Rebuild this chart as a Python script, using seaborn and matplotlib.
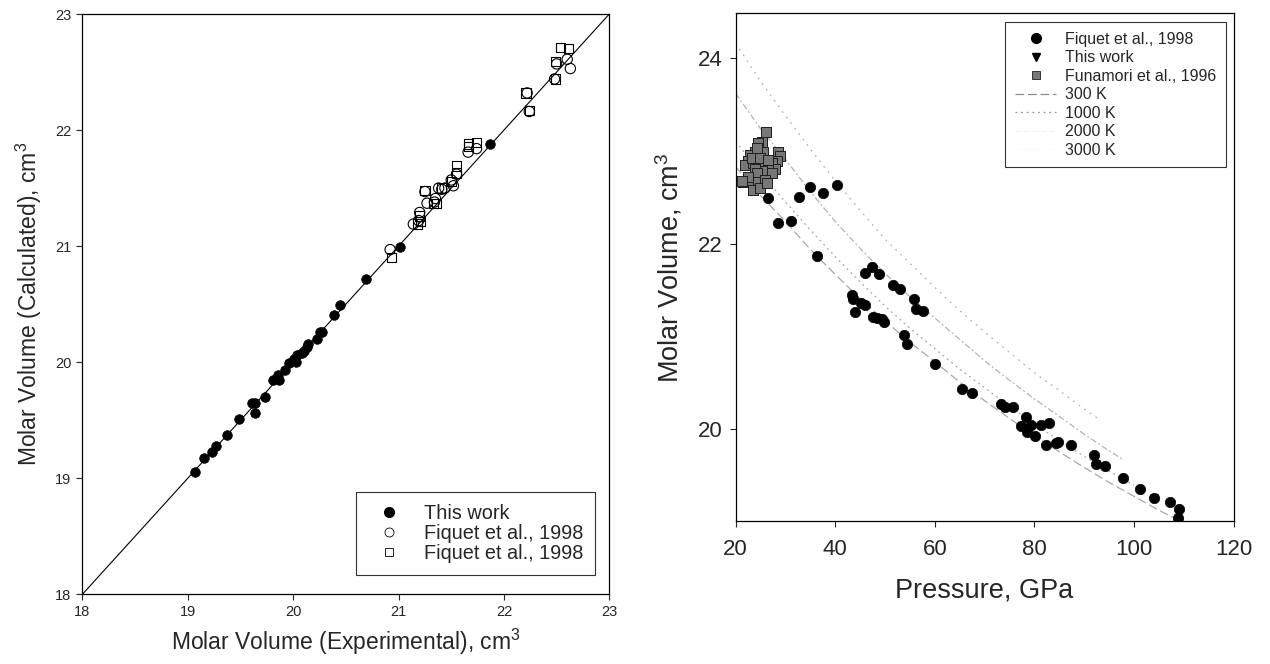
import matplotlib
matplotlib.use("Agg")
import matplotlib.pyplot as plt
import seaborn as sns
import pandas as pd
from matplotlib.lines import Line2D

# ---------------- Left panel data ----------------
tw_exp = [19.065, 19.15, 19.23, 19.27, 19.37, 19.49, 19.61, 19.64, 19.64, 19.73, 19.81, 19.87,
          19.86, 19.92, 19.96, 20.01, 20.03, 20.04, 20.08, 20.10, 20.13, 20.14, 20.23, 20.25,
          20.27, 20.39, 20.44, 20.69, 21.01, 21.87]
tw_calc = [19.05, 19.17, 19.23, 19.28, 19.37, 19.51, 19.65, 19.65, 19.56, 19.70, 19.85, 19.85,
           19.89, 19.93, 19.99, 20.03, 20.00, 20.06, 20.08, 20.10, 20.13, 20.16, 20.20, 20.26,
           20.26, 20.41, 20.49, 20.72, 20.99, 21.88]

fc_exp = [20.92, 21.14, 21.19, 21.20, 21.25, 21.27, 21.34, 21.35, 21.38, 21.41, 21.44, 21.52,
          21.50, 21.55, 21.66, 21.74, 22.22, 22.24, 22.48, 22.50, 22.60, 22.63]
fc_calc = [20.97, 21.19, 21.22, 21.29, 21.47, 21.37, 21.38, 21.41, 21.50, 21.49, 21.50, 21.52,
           21.57, 21.62, 21.81, 21.84, 22.32, 22.16, 22.44, 22.57, 22.61, 22.53]

fs_exp = [20.93, 21.18, 21.21, 21.20, 21.25, 21.33, 21.36, 21.41, 21.50, 21.55, 21.55, 21.66,
          21.66, 21.74, 22.21, 22.24, 22.49, 22.49, 22.54, 22.61]
fs_calc = [20.90, 21.19, 21.21, 21.26, 21.48, 21.37, 21.37, 21.50, 21.56, 21.69, 21.63, 21.88,
           21.86, 21.89, 22.32, 22.17, 22.44, 22.59, 22.71, 22.70]

left_ticks = [18, 19, 20, 21, 22, 23]
left_legend = ["This work", "Fiquet et al., 1998", "Fiquet et al., 1998"]

# ---------------- Right panel data ----------------
fq_p = [26.6, 28.6, 31.1, 32.7, 35.0, 37.6, 40.4, 36.3, 43.3, 43.5, 44.0, 45.1, 46.0, 45.9,
        47.4, 48.9, 47.5, 48.4, 49.5, 49.8, 51.6, 53.1, 53.9, 54.4, 55.9, 56.2, 57.7, 60.1,
        65.4, 67.4, 73.2, 74.2, 75.7, 77.3, 78.4, 78.6, 79.4, 80.2, 81.4, 82.9, 82.4, 84.3,
        84.8, 87.3, 91.9, 92.3, 94.2, 97.7, 101.2, 104.1, 107.2, 109.0, 108.8]
fq_v = [22.49, 22.22, 22.25, 22.50, 22.61, 22.55, 22.63, 21.87, 21.45, 21.40, 21.26, 21.36,
        21.34, 21.68, 21.75, 21.67, 21.21, 21.20, 21.19, 21.16, 21.56, 21.51, 21.02, 20.92,
        21.41, 21.30, 21.28, 20.70, 20.44, 20.39, 20.27, 20.24, 20.24, 20.04, 20.13, 19.97,
        20.05, 19.93, 20.05, 20.07, 19.83, 19.85, 19.86, 19.83, 19.73, 19.63, 19.61, 19.48,
        19.36, 19.26, 19.22, 19.14, 19.05]

tw_p = [36.3, 92.3, 104.1, 108.8]
tw_v = [21.87, 19.63, 19.26, 19.05]

fn_p = [26.04, 25.24, 24.56, 25.56, 23.90, 22.89, 28.57, 28.92, 28.25, 22.55, 21.89, 23.55,
        24.56, 25.90, 27.25, 27.91, 26.57, 25.24, 23.90, 27.25, 24.24, 21.55, 22.89, 24.56,
        25.90, 23.55, 24.90, 26.25, 22.55, 23.23, 24.90, 26.57, 24.24, 21.30]
fn_v = [23.20, 23.10, 23.08, 22.99, 22.99, 22.96, 22.99, 22.94, 22.89, 22.89, 22.85, 22.87,
        22.85, 22.87, 22.87, 22.81, 22.80, 22.78, 22.80, 22.76, 22.76, 22.67, 22.67, 22.67,
        22.69, 22.58, 22.60, 22.65, 22.72, 22.92, 22.92, 22.90, 23.03, 22.68]

iso300_p = [20, 25, 30, 35, 40, 45, 50, 55, 60, 65, 70, 75, 80, 85, 90, 95, 100, 105, 109]
iso300_v = [22.83, 22.52, 22.24, 21.94, 21.67, 21.41, 21.17, 20.94, 20.73, 20.51, 20.31,
            20.12, 19.93, 19.76, 19.59, 19.43, 19.28, 19.13, 19.02]
iso1000_p = [20, 25, 30, 35, 40, 45, 50, 55, 60, 65, 70, 75, 80, 85, 90, 95, 100]
iso1000_v = [23.10, 22.77, 22.45, 22.15, 21.86, 21.59, 21.33, 21.09, 20.87, 20.65, 20.45,
             20.25, 20.06, 19.88, 19.71, 19.55, 19.40]
iso2000_p = [20, 25, 30, 35, 40, 45, 50, 55, 60, 65, 70, 75, 80, 85, 90, 95, 98]
iso2000_v = [23.62, 23.24, 22.91, 22.56, 22.24, 21.95, 21.68, 21.43, 21.20, 20.97, 20.74,
             20.53, 20.33, 20.14, 19.95, 19.77, 19.67]
iso3000_p = [20, 25, 30, 35, 40, 45, 50, 55, 60, 65, 70, 75, 80, 85, 90, 93]
iso3000_v = [24.16, 23.75, 23.38, 23.02, 22.68, 22.36, 22.05, 21.79, 21.53, 21.28, 21.05,
             20.83, 20.61, 20.42, 20.22, 20.11]

right_xticks = [20, 40, 60, 80, 100, 120]
right_yticks = [20, 22, 24]
right_legend = ["Fiquet et al., 1998", "This work", "Funamori et al., 1996",
                "300 K", "1000 K", "2000 K", "3000 K"]

# ---------------- Figure ----------------
sns.set_style("white")
plt.rcParams["font.family"] = ["Liberation Sans", "DejaVu Sans"]
plt.rcParams["axes.edgecolor"] = "black"
plt.rcParams["axes.linewidth"] = 0.9

fig = plt.figure(figsize=(12.7, 6.64), dpi=100)
ax1 = fig.add_axes([0.0649, 0.1050, 0.4149, 0.8739])
ax2 = fig.add_axes([0.5792, 0.2148, 0.3921, 0.7649])

# Left panel
sns.lineplot(x=left_ticks[::5], y=left_ticks[::5], ax=ax1, color="black", lw=0.8, zorder=1)
sns.scatterplot(x=fs_exp, y=fs_calc, ax=ax1, marker="s", s=44, color="white",
                edgecolor="black", linewidth=0.8, zorder=2)
ax1.collections[-1].set_facecolor("none")
sns.scatterplot(x=fc_exp, y=fc_calc, ax=ax1, marker="o", s=55, color="white",
                edgecolor="black", linewidth=0.8, zorder=3)
ax1.collections[-1].set_facecolor("none")
sns.scatterplot(x=tw_exp, y=tw_calc, ax=ax1, marker="o", s=48, color="black",
                edgecolor="black", linewidth=0.5, zorder=4)

ax1.set_xlim(18, 23)
ax1.set_ylim(18, 23)
ax1.set_xticks(left_ticks)
ax1.set_yticks(left_ticks)
ax1.tick_params(axis="both", direction="out", length=4, width=0.8, labelsize=10.5,
                bottom=True, left=True, pad=4)
ax1.set_xlabel("Molar Volume (Experimental), cm$^{\\mathregular{3}}$", fontsize=16.5, labelpad=5)
ax1.set_ylabel("Molar Volume (Calculated), cm$^{\\mathregular{3}}$", fontsize=16.5, labelpad=8)

h1 = [Line2D([], [], ls="none", marker="o", ms=7, mfc="black", mec="black"),
      Line2D([], [], ls="none", marker="o", ms=6.5, mfc="none", mec="black", mew=0.6),
      Line2D([], [], ls="none", marker="s", ms=6, mfc="none", mec="black", mew=0.6)]
leg1 = ax1.legend(h1, left_legend, loc="lower right", bbox_to_anchor=(0.973, 0.034),
                  borderaxespad=0, fontsize=14.3, frameon=True, fancybox=False,
                  edgecolor="black", borderpad=0.6, handlelength=2.1, handletextpad=0.7,
                  labelspacing=0.05)
leg1.get_frame().set_linewidth(0.8)

# Right panel
iso_sets = [(iso300_p, iso300_v, (0, (7, 3)), "#a8a8a8"),
            (iso1000_p, iso1000_v, (0, (1.5, 3)), "#a8a8a8"),
            (iso2000_p, iso2000_v, (0, (5, 2, 1.5, 2)), "#b4b4b4"),
            (iso3000_p, iso3000_v, (0, (1.5, 4)), "#b4b4b4")]
for px, vy, dsh, col in iso_sets:
    sns.lineplot(x=px, y=vy, ax=ax2, color=col, lw=0.9, linestyle=dsh, sort=False, zorder=1)

sns.scatterplot(x=fn_p, y=fn_v, ax=ax2, marker="s", s=50, color="#777777",
                edgecolor="#1e1e1e", linewidth=0.7, zorder=3)
sns.scatterplot(x=tw_p, y=tw_v, ax=ax2, marker="v", s=30, color="black",
                edgecolor="black", linewidth=0.5, zorder=2)
sns.scatterplot(x=fq_p, y=fq_v, ax=ax2, marker="o", s=56, color="black",
                edgecolor="black", linewidth=0.5, zorder=4)

ax2.set_xlim(20, 120)
ax2.set_ylim(19.01, 24.48)
ax2.set_xticks(right_xticks)
ax2.set_yticks(right_yticks)
ax2.tick_params(axis="both", direction="out", length=4, width=0.8, labelsize=16,
                bottom=True, left=True, pad=5)
ax2.tick_params(axis="x", pad=9)
ax2.set_xlabel("Pressure, GPa", fontsize=19.5, labelpad=12)
ax2.set_ylabel("Molar Volume, cm$^{\\mathregular{3}}$", fontsize=19.5, labelpad=10)

h2 = [Line2D([], [], ls="none", marker="o", ms=7, mfc="black", mec="black"),
      Line2D([], [], ls="none", marker="v", ms=6, mfc="black", mec="black"),
      Line2D([], [], ls="none", marker="s", ms=6, mfc="#777777", mec="#1e1e1e", mew=0.6),
      Line2D([], [], color="#8a8a8a", lw=0.9, ls=(0, (7, 3))),
      Line2D([], [], color="#9a9a9a", lw=0.9, ls=(0, (1.5, 3))),
      Line2D([], [], color="#eeeeee", lw=0.6, ls=(0, (5, 2, 1.5, 2))),
      Line2D([], [], color="#eeeeee", lw=0.6, ls=(0, (1.5, 4)))]
leg2 = ax2.legend(h2, right_legend, loc="upper right", bbox_to_anchor=(0.985, 0.983),
                  borderaxespad=0, fontsize=11.5, frameon=True, fancybox=False,
                  edgecolor="black", borderpad=0.6, handlelength=2.6, handletextpad=0.55,
                  labelspacing=0.22)
leg2.get_frame().set_linewidth(0.8)

fig.savefig("out.png", dpi=100, facecolor="white")
